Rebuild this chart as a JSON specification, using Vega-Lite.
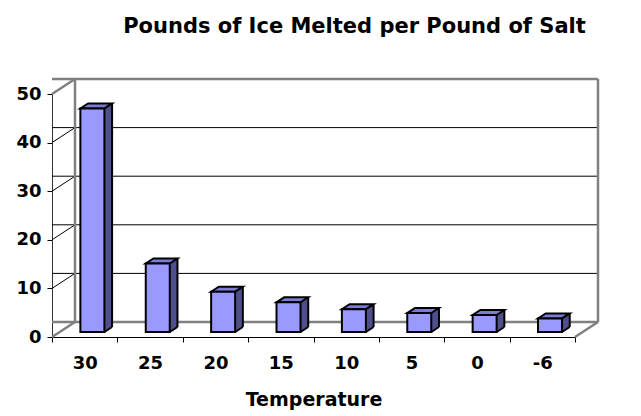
{
  "$schema": "https://vega.github.io/schema/vega-lite/v6.json",
  "width": 523,
  "height": 243,
  "autosize": {"type": "none"},
  "padding": {"left": 52, "top": 94, "right": 66, "bottom": 79},
  "background": "white",
  "config": {
    "view": {"stroke": null},
    "font": "DejaVu Sans",
    "axis": {
      "labelFont": "DejaVu Sans",
      "labelFontSize": 18,
      "labelFontWeight": "bold",
      "labelColor": "black",
      "tickColor": "black",
      "tickSize": 5,
      "grid": false,
      "titleFont": "DejaVu Sans",
      "titleFontSize": 19,
      "titleFontWeight": "bold",
      "titleColor": "black"
    },
    "axisX": {"labelAngle": 0, "labelPadding": 12, "tickBand": "extent", "domainColor": "black", "domainWidth": 1, "titlePadding": 18},
    "axisY": {"labelPadding": 6, "domainColor": "#333333", "tickCount": 5}
  },
  "title": {
    "text": "Pounds of Ice Melted per Pound of Salt",
    "font": "DejaVu Sans",
    "fontSize": 21,
    "fontWeight": "bold",
    "color": "black",
    "anchor": "middle",
    "frame": "group",
    "dx": 41,
    "offset": 37
  },
  "datasets": {
    "salt": [
      {"temp": "30", "lbs": 46},
      {"temp": "25", "lbs": 14.1},
      {"temp": "20", "lbs": 8.3},
      {"temp": "15", "lbs": 6.1},
      {"temp": "10", "lbs": 4.7},
      {"temp": "5", "lbs": 3.9},
      {"temp": "0", "lbs": 3.5},
      {"temp": "-6", "lbs": 2.8}
    ],
    "grid": [{"v": 0}, {"v": 10}, {"v": 20}, {"v": 30}, {"v": 40}, {"v": 50}]
  },
  "layer": [
    {
      "data": {"name": "grid"},
      "transform": [{"filter": "datum.v > 0 && datum.v < 50"}],
      "mark": {"type": "rule", "color": "black", "strokeWidth": 1, "xOffset": 23, "x2Offset": 23, "yOffset": -15},
      "encoding": {"y": {"field": "v", "type": "quantitative", "axis": {"title": null}}}
    },
    {
      "data": {"name": "grid"},
      "transform": [{"filter": "datum.v == 0 || datum.v == 50"}],
      "mark": {"type": "rule", "color": "#808080", "strokeWidth": 2.5, "xOffset": 23, "x2Offset": 23, "yOffset": -15},
      "encoding": {"y": {"field": "v", "type": "quantitative", "axis": {"title": null}}}
    },
    {
      "data": {"name": "salt"},
      "transform": [{"filter": "datum.temp == '30'"}],
      "encoding": {
        "x": {"field": "temp", "type": "nominal", "sort": null, "bandPosition": 0, "axis": {"title": "Temperature"}}
      },
      "layer": [
        {"mark": {"type": "point", "shape": "M0,0L23,-15", "size": 4, "filled": false, "stroke": "#808080", "strokeWidth": 2.5, "opacity": 1},
         "encoding": {"y": {"datum": 0, "type": "quantitative", "axis": {"title": null}}}},
        {"mark": {"type": "point", "shape": "M0,0L23,-15", "size": 4, "filled": false, "stroke": "black", "strokeWidth": 1, "opacity": 1},
         "encoding": {"y": {"datum": 10, "type": "quantitative", "axis": {"title": null}}}},
        {"mark": {"type": "point", "shape": "M0,0L23,-15", "size": 4, "filled": false, "stroke": "black", "strokeWidth": 1, "opacity": 1},
         "encoding": {"y": {"datum": 20, "type": "quantitative", "axis": {"title": null}}}},
        {"mark": {"type": "point", "shape": "M0,0L23,-15", "size": 4, "filled": false, "stroke": "black", "strokeWidth": 1, "opacity": 1},
         "encoding": {"y": {"datum": 30, "type": "quantitative", "axis": {"title": null}}}},
        {"mark": {"type": "point", "shape": "M0,0L23,-15", "size": 4, "filled": false, "stroke": "black", "strokeWidth": 1, "opacity": 1},
         "encoding": {"y": {"datum": 40, "type": "quantitative", "axis": {"title": null}}}},
        {"mark": {"type": "point", "shape": "M0,0L23,-15", "size": 4, "filled": false, "stroke": "#808080", "strokeWidth": 2.5, "opacity": 1},
         "encoding": {"y": {"datum": 50, "type": "quantitative", "axis": {"title": null}}}},
        {"mark": {"type": "rule", "color": "#808080", "strokeWidth": 2.5, "xOffset": 23, "yOffset": -15, "y2Offset": -15},
         "encoding": {"y": {"datum": 0, "type": "quantitative", "axis": {"title": null}}, "y2": {"datum": 50}}}
      ]
    },
    {
      "data": {"name": "salt"},
      "transform": [{"filter": "datum.temp == '-6'"}],
      "encoding": {
        "x": {"field": "temp", "type": "nominal", "sort": null, "bandPosition": 1, "axis": {"title": "Temperature"}}
      },
      "layer": [
        {"mark": {"type": "point", "shape": "M0,0L23,-15", "size": 4, "filled": false, "stroke": "#808080", "strokeWidth": 2.5, "opacity": 1},
         "encoding": {"y": {"datum": 0, "type": "quantitative", "axis": {"title": null}}}},
        {"mark": {"type": "rule", "color": "#808080", "strokeWidth": 2.5, "xOffset": 23, "yOffset": -15, "y2Offset": -15},
         "encoding": {"y": {"datum": 0, "type": "quantitative", "axis": {"title": null}}, "y2": {"datum": 50}}}
      ]
    },
    {
      "data": {"name": "salt"},
      "encoding": {
        "x": {
          "field": "temp",
          "type": "nominal",
          "sort": null,
          "scale": {"domain": ["30", "25", "20", "15", "10", "5", "0", "-6"], "paddingInner": 0, "paddingOuter": 0},
          "axis": {"title": "Temperature"}
        }
      },
      "layer": [
        {
          "mark": {"type": "bar", "width": 10, "xOffset": 22.4, "yOffset": -10, "y2Offset": -10, "fill": "#4f4f8c", "strokeWidth": 0},
          "encoding": {"y": {"field": "lbs", "type": "quantitative", "axis": {"title": null}}}
        },
        {
          "mark": {"type": "point", "shape": "M12,0L19.7,-5L19.7,-5.6L12,-5.6Z", "size": 4, "filled": true, "fill": "#4f4f8c", "strokeWidth": 0, "opacity": 1, "xOffset": 7.7, "yOffset": -5},
          "encoding": {"y": {"datum": 0, "type": "quantitative", "axis": {"title": null}}}
        },
        {
          "mark": {"type": "bar", "width": 2, "xOffset": 27.4, "yOffset": -10, "y2Offset": -10, "fill": "black", "strokeWidth": 0},
          "encoding": {"y": {"field": "lbs", "type": "quantitative", "axis": {"title": null}}}
        },
        {
          "mark": {"type": "point", "shape": "M12,0L19.7,-5", "size": 4, "filled": false, "stroke": "black", "strokeWidth": 2, "opacity": 1, "xOffset": 7.7, "yOffset": -5},
          "encoding": {"y": {"datum": 0, "type": "quantitative", "axis": {"title": null}}}
        },
        {
          "mark": {"type": "point", "shape": "M-12,0L12,0L19.7,-5L-4.3,-5Z", "size": 4, "filled": true, "fill": "#7c7cd8", "stroke": "black", "strokeWidth": 2, "strokeJoin": "miter", "opacity": 1, "xOffset": 7.7, "yOffset": -5},
          "encoding": {"y": {"field": "lbs", "type": "quantitative", "axis": {"title": null}}}
        },
        {
          "mark": {"type": "bar", "width": 24, "xOffset": 7.7, "yOffset": -5, "y2Offset": -5, "fill": "#9999ff", "stroke": "black", "strokeWidth": 2},
          "encoding": {
            "y": {
              "field": "lbs",
              "type": "quantitative",
              "scale": {"domain": [0, 50], "nice": false},
              "axis": {"title": null}
            }
          }
        }
      ]
    }
  ]
}
